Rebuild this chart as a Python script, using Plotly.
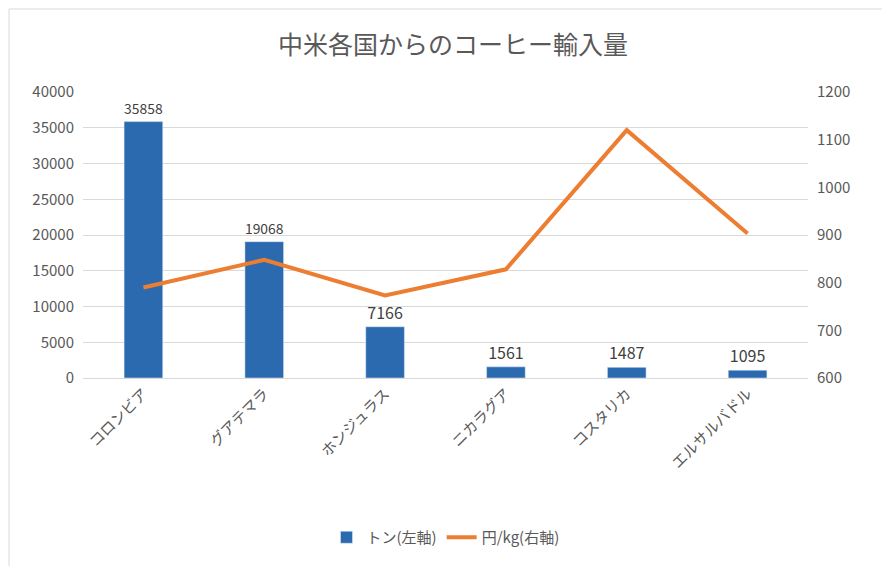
import plotly.graph_objects as go

categories = ["コロンビア", "グアテマラ", "ホンジュラス", "ニカラグア", "コスタリカ", "エルサルバドル"]
tons = [35858, 19068, 7166, 1561, 1487, 1095]
yen_per_kg = [790, 848, 773, 828, 1120, 903]

font = "Noto Sans CJK JP"
L, R, T, B = 75, 90, 84, 196
pw, ph = 890 - L - R, 566 - T - B
fig = go.Figure()
fig.add_trace(go.Bar(x=categories, y=tons, name="トン(左軸)", marker=dict(color="#2C6AB0"),
                     text=[str(v) for v in tons], textposition="outside",
                     textfont=dict(size=16, color="#404040"), width=0.32, cliponaxis=False))
fig.add_trace(go.Scatter(x=categories, y=yen_per_kg, name="円/kg(右軸)", yaxis="y2", mode="lines",
                         line=dict(color="#ED7D31", width=4)))
fig.update_layout(
    width=890, height=566, paper_bgcolor="white", plot_bgcolor="white",
    font=dict(family=font, color="#595959", size=15),
    title=dict(text="中米各国からのコーヒー輸入量", x=0.5, y=0.95, xanchor="center",
               font=dict(size=25, color="#595959")),
    margin=dict(l=L, r=R, t=T, b=B),
    xaxis=dict(tickangle=-45, showgrid=False, showline=True, linecolor="#D9D9D9",
               tickfont=dict(size=15, color="#595959")),
    yaxis=dict(range=[0, 40000], dtick=5000, tickformat="d", gridcolor="#D9D9D9", zeroline=False,
               tickfont=dict(size=15, color="#595959"), ticks="", ticklabelstandoff=8),
    yaxis2=dict(range=[600, 1200], dtick=100, overlaying="y", side="right", showgrid=False,
                tickfont=dict(size=15, color="#595959"), zeroline=False, ticklabelstandoff=8),
    legend=dict(orientation="h", x=0.5, xanchor="center", y=-0.5, yanchor="top",
                font=dict(size=15, color="#595959")),
    bargap=0.6,
    shapes=[dict(type="rect", xref="paper", yref="paper",
                 x0=-(L - 1) / pw, x1=1 + (R - 1) / pw, y0=-(B - 1) / ph, y1=1 + (T - 1) / ph,
                 line=dict(color="#D9D9D9", width=1))],
)
fig.write_html("out.html")
